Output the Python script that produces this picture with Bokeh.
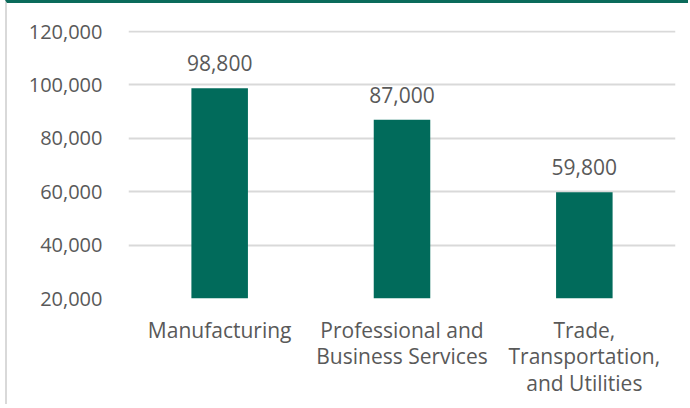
from bokeh.plotting import figure
from bokeh.models import ColumnDataSource, Range1d, NumeralTickFormatter, FixedTicker, LabelSet
from bokeh.core.properties import value
from bokeh.embed import file_html
from bokeh.resources import INLINE

categories = ["Manufacturing", "Professional and\nBusiness Services", "Trade,\nTransportation,\nand Utilities"]
values = [98800, 87000, 59800]
value_labels = ["98,800", "87,000", "59,800"]
y_ticks = [20000, 40000, 60000, 80000, 100000, 120000]

BAR = "#016b5b"
TXT = "#595959"
FONT = "Open Sans"

src = ColumnDataSource(dict(cat=categories, val=values, lab=value_labels))

p = figure(x_range=categories, y_range=Range1d(20000, 120400),
           frame_width=547, frame_height=268,
           output_backend="svg", toolbar_location=None,
           min_border_left=121, min_border_right=13, min_border_top=27, min_border_bottom=106)
p.styles = {"border-top": "3px solid #0b6b5b", "border-left": "2px solid #d9d9d9",
            "margin-left": "5px"}

p.vbar(x="cat", top="val", bottom=20000, width=0.31, source=src, color=BAR, line_color=None)

labels = LabelSet(x="cat", y="val", text="lab", source=src, text_align="center",
                  text_baseline="bottom", y_offset=17, text_font_size="21px",
                  text_color=TXT, text_font=value(FONT))
p.add_layout(labels)

p.outline_line_color = None
p.xgrid.grid_line_color = None
p.ygrid.grid_line_color = "#d9d9d9"
p.ygrid.grid_line_width = 2
p.yaxis.ticker = FixedTicker(ticks=y_ticks)
p.yaxis.formatter = NumeralTickFormatter(format="0,0")
for ax in (p.xaxis[0], p.yaxis[0]):
    ax.axis_line_color = None
    ax.major_tick_line_color = None
    ax.minor_tick_line_color = None
    ax.major_label_text_font = FONT
    ax.major_label_text_color = TXT
p.xaxis.major_label_text_font_size = "21px"
p.yaxis.major_label_text_font_size = "20px"
p.xaxis.major_label_text_line_height = 0.95
p.yaxis.major_label_standoff = 20
p.xaxis.major_label_standoff = 11

open("out.html", "w").write(file_html(p, INLINE))
